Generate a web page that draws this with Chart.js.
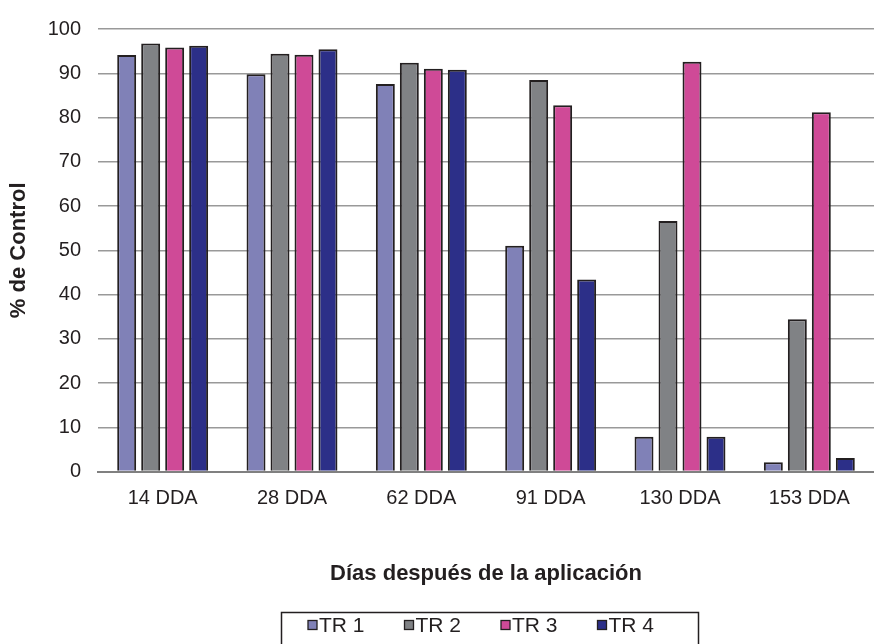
<!DOCTYPE html>
<html>
<head>
<meta charset="utf-8">
<script src="https://cdn.jsdelivr.net/npm/chart.js@4.4.1/dist/chart.umd.min.js"></script>
<style>
  html, body { margin: 0; padding: 0; background: #ffffff; }
  #wrap { width: 874px; height: 644px; }
</style>
</head>
<body>
<div id="wrap"><canvas id="c" width="874" height="644"></canvas></div>
<script>
const categories = ['14 DDA', '28 DDA', '62 DDA', '91 DDA', '130 DDA', '153 DDA'];
const seriesLabels = ['TR 1', 'TR 2', 'TR 3', 'TR 4'];
const tr1 = [94.1, 89.8, 87.6, 51.0, 7.9, 2.1];
const tr2 = [96.7, 94.4, 92.4, 88.5, 56.6, 34.4];
const tr3 = [95.8, 94.2, 91.0, 82.8, 92.6, 81.2];
const tr4 = [96.2, 95.4, 90.8, 43.4, 7.9, 3.1];
const seriesColors = ['#8081B7', '#808285', '#CF4A97', '#2C2F88'];
const yMin = 0, yMax = 100, yStep = 10;
const yTitle = '% de Control';
const xTitle = 'Días después de la aplicación';

const FONT = '"Liberation Sans", Arial, Helvetica, sans-serif';
const TEXT = '#231F20';

const legendBox = {
  id: 'legendBox',
  afterDraw(chart) {
    const ctx = chart.ctx;
    ctx.save();
    ctx.strokeStyle = TEXT;
    ctx.lineWidth = 1.5;
    ctx.strokeRect(281.5, 612.5, 417, 40);
    ctx.font = '21px ' + FONT;
    ctx.textBaseline = 'middle';
    ctx.textAlign = 'left';
    chart.data.datasets.forEach((ds, i) => {
      const x = 308 + i * 96.5;
      const y = 625;
      ctx.fillStyle = ds.backgroundColor;
      ctx.fillRect(x, y - 4.5, 9, 9);
      ctx.strokeStyle = TEXT;
      ctx.lineWidth = 1.3;
      ctx.strokeRect(x, y - 4.5, 9, 9);
      ctx.fillStyle = TEXT;
      ctx.fillText(ds.label, x + 11, y + 1);
    });
    ctx.restore();
  }
};

const seriesValues = [tr1, tr2, tr3, tr4];
const datasets = seriesLabels.map((lab, i) => ({
  label: lab,
  data: seriesValues[i],
  backgroundColor: seriesColors[i],
  borderColor: TEXT,
  borderWidth: 2,
  categoryPercentage: 0.742,
  barPercentage: 0.79
}));

new Chart(document.getElementById('c'), {
  type: 'bar',
  data: { labels: categories, datasets },
  plugins: [legendBox],
  options: {
    responsive: false,
    animation: false,
    devicePixelRatio: 1,
    layout: { padding: { top: 29, right: 0, bottom: 5, left: 0 } },
    plugins: {
      legend: { display: false },
      tooltip: { enabled: false }
    },
    scales: {
      x: {
        grid: { display: false, drawTicks: false },
        border: { display: true, color: '#808080', width: 2 },
        ticks: { color: TEXT, font: { family: FONT, size: 20 }, padding: 15, maxRotation: 0 },
        title: {
          display: true, text: xTitle, color: TEXT,
          font: { family: FONT, size: 22, weight: 'bold' },
          padding: { top: 35, bottom: 52 }
        }
      },
      y: {
        min: yMin, max: yMax,
        afterFit(scale) { scale.width = 98; },
        grid: { color: '#999999', lineWidth: 1.5, drawTicks: false },
        border: { display: false },
        ticks: { stepSize: yStep, color: TEXT, font: { family: FONT, size: 20 }, padding: 17 },
        title: {
          display: true, text: yTitle, color: TEXT,
          font: { family: FONT, size: 22, weight: 'bold' },
          padding: { top: 6, bottom: 7 }
        }
      }
    }
  }
});
</script>
</body>
</html>
